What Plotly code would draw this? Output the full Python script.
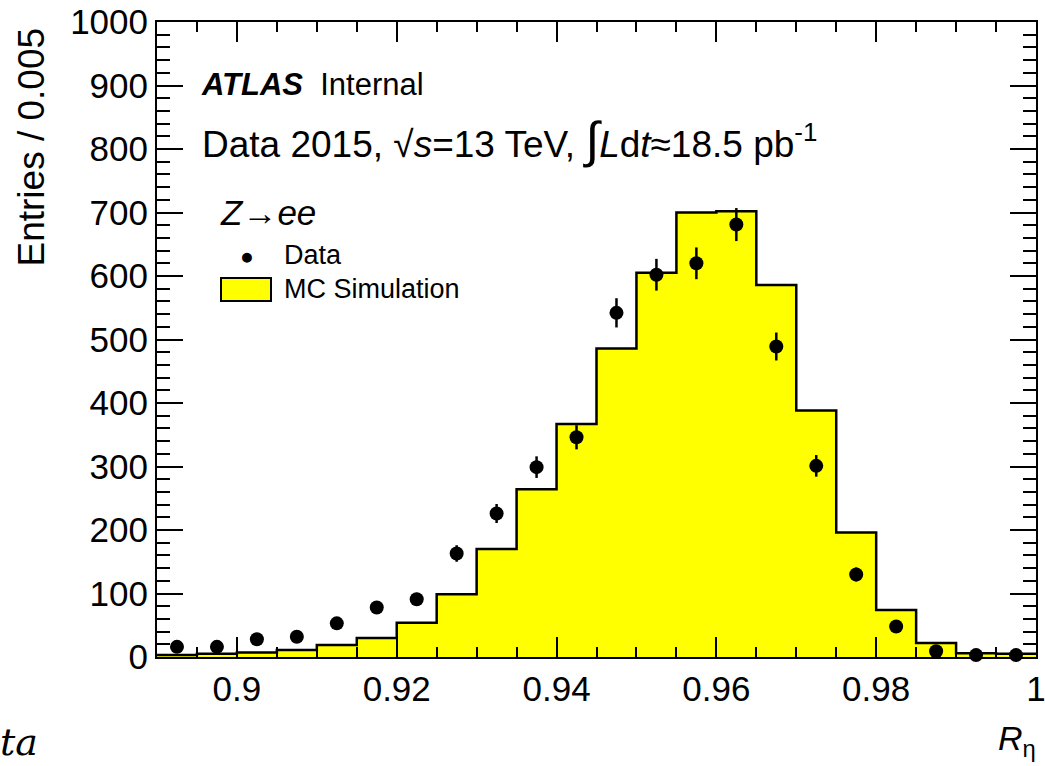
import plotly.graph_objects as go

# ---- data ----
bin_edges = [0.89, 0.895, 0.9, 0.905, 0.91, 0.915, 0.92, 0.925, 0.93, 0.935, 0.94,
             0.945, 0.95, 0.955, 0.96, 0.965, 0.97, 0.975, 0.98, 0.985, 0.99, 0.995, 1.0]
bin_centers = [0.8925, 0.8975, 0.9025, 0.9075, 0.9125, 0.9175, 0.9225, 0.9275, 0.9325, 0.9375,
               0.9425, 0.9475, 0.9525, 0.9575, 0.9625, 0.9675, 0.9725, 0.9775, 0.9825, 0.9875,
               0.9925, 0.9975]
mc_counts = [3, 5, 7, 11, 19, 30, 54, 99, 170, 264, 367, 486, 605, 700, 702, 586, 388, 196, 74, 22, 6, 5]
data_counts = [16, 16, 28, 32, 53, 78, 91, 163, 226, 299, 346, 542, 602, 620, 681, 489, 301, 130, 48, 9, 3, 3]
data_errors = [4, 4, 5, 6, 7, 9, 10, 13, 15, 17, 19, 23, 25, 25, 26, 22, 17, 11, 7, 3, 2, 2]

x_tickvals = [0.9, 0.92, 0.94, 0.96, 0.98, 1.0]
x_ticktext = ["0.9", "0.92", "0.94", "0.96", "0.98", "1"]
y_tickvals = [0, 100, 200, 300, 400, 500, 600, 700, 800, 900, 1000]

# ---- layout geometry (pixels) ----
W, H = 1045, 766
L, R, T, B = 157, 1036, 22, 657


def px_x(p):
    return (p - L) / (R - L)


def px_y(p):
    return (B - p) / (B - T)


FONT = "Liberation Sans, Arial, Helvetica, sans-serif"

fig = go.Figure()

# MC histogram (filled step)
step_y = mc_counts + [mc_counts[-1]]
fig.add_trace(go.Scatter(
    x=bin_edges, y=step_y, mode="lines", line=dict(shape="hv", color="black", width=2.5),
    fill="tozeroy", fillcolor="#ffff00", showlegend=False, hoverinfo="skip"))

# Data points
fig.add_trace(go.Scatter(
    x=bin_centers, y=data_counts, mode="markers",
    marker=dict(color="black", size=14, symbol="circle"),
    error_y=dict(type="data", array=data_errors, visible=True, color="black",
                 thickness=2.5, width=0),
    cliponaxis=False, showlegend=False))

fig.update_xaxes(
    range=[0.89, 1.0], tickvals=x_tickvals, ticktext=x_ticktext, automargin=False,
    ticklabeloverflow="allow",
    ticks="inside", ticklen=20, tickwidth=1.5, tickcolor="black",
    minor=dict(ticks="inside", ticklen=10, dtick=0.005, tick0=0.89, tickwidth=1.5, tickcolor="black"),
    showline=True, linecolor="black", linewidth=2, mirror="ticks",
    showgrid=False, zeroline=False,
    tickfont=dict(family=FONT, size=35, color="black"))
fig.update_yaxes(
    range=[0, 1000], tickvals=y_tickvals, automargin=False,
    ticklabeloverflow="allow",
    ticks="inside", ticklen=26, tickwidth=1.5, tickcolor="black",
    minor=dict(ticks="inside", ticklen=13, dtick=20, tick0=0, tickwidth=1.5, tickcolor="black"),
    showline=True, linecolor="black", linewidth=2, mirror="ticks",
    showgrid=False, zeroline=False,
    tickfont=dict(family=FONT, size=35, color="black"))

ann = []
# y-axis title
ann.append(dict(text="Entries / 0.005", textangle=-90, xref="paper", yref="paper",
                x=px_x(31), y=px_y(26), xanchor="center", yanchor="top", showarrow=False,
                font=dict(family=FONT, size=37, color="black")))
# x-axis title
ann.append(dict(text="<i>R</i><sub>η</sub>", xref="paper", yref="paper",
                x=px_x(1038), y=px_y(740), xanchor="right", yanchor="middle", showarrow=False,
                font=dict(family=FONT, size=34, color="black")))
# stray fragment at bottom-left
ann.append(dict(text="<i>ta</i>", xref="paper", yref="paper",
                x=px_x(-2), y=px_y(766), xanchor="left", yanchor="bottom", showarrow=False,
                font=dict(family="DejaVu Serif, Liberation Serif, serif", size=38, color="black")))
# ATLAS label
ann.append(dict(text="<b><i>ATLAS</i></b>\u00a0\u00a0Internal", xref="paper", yref="paper",
                x=px_x(199), y=px_y(85), xanchor="left", yanchor="middle", showarrow=False,
                font=dict(family=FONT, size=31, color="black")))
ann.append(dict(text="Data 2015, √<i>s</i>=13 TeV, <span style='font-size:50px'>∫</span><i>L</i>d<i>t</i>≈18.5 pb<sup>-1</sup>",
                xref="paper", yref="paper",
                x=px_x(200), y=px_y(140), xanchor="left", yanchor="middle", showarrow=False,
                font=dict(family=FONT, size=37, color="black")))
ann.append(dict(text="<i>Z</i>→<i>ee</i>", xref="paper", yref="paper",
                x=px_x(218), y=px_y(212), xanchor="left", yanchor="middle", showarrow=False,
                font=dict(family=FONT, size=35, color="black")))
# legend
ann.append(dict(text="●", xref="paper", yref="paper",
                x=px_x(247), y=px_y(256), xanchor="center", yanchor="middle", showarrow=False,
                font=dict(family=FONT, size=23, color="black")))
ann.append(dict(text="Data", xref="paper", yref="paper",
                x=px_x(282), y=px_y(255), xanchor="left", yanchor="middle", showarrow=False,
                font=dict(family=FONT, size=27, color="black")))
ann.append(dict(text="MC Simulation", xref="paper", yref="paper",
                x=px_x(282), y=px_y(289), xanchor="left", yanchor="middle", showarrow=False,
                font=dict(family=FONT, size=27, color="black")))

shapes = [dict(type="rect", xref="paper", yref="paper",
               x0=px_x(221), x1=px_x(271), y0=px_y(301), y1=px_y(278),
               fillcolor="#ffff00", line=dict(color="black", width=2))]

fig.update_layout(
    width=W, height=H, margin=dict(l=L, r=W - R, t=T, b=H - B, autoexpand=False),
    paper_bgcolor="white", plot_bgcolor="white",
    annotations=ann, shapes=shapes, showlegend=False,
    font=dict(family=FONT, color="black"))

fig.write_html("out.html", config={"displayModeBar": False},
               post_script="document.body.style.margin='0';document.body.style.overflow='hidden';")
